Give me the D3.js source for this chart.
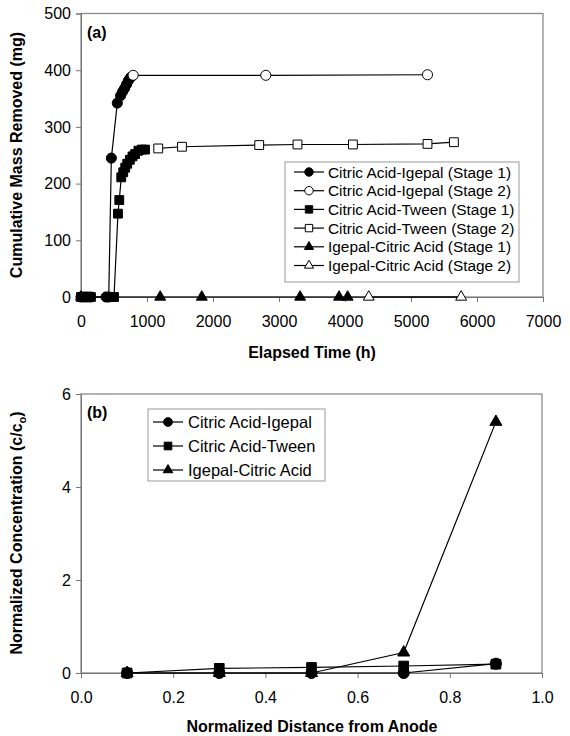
<!DOCTYPE html>
<html>
<head>
<meta charset="utf-8">
<script src="https://cdn.jsdelivr.net/npm/d3@7"></script>
<style>
body{margin:0;background:#fff}
svg{display:block;font-family:"Liberation Sans",Arial,sans-serif}
</style>
</head>
<body>
<script>
// panel (a) : [elapsed time h, cumulative mass removed mg]
var caIgepal1 = [[0,0],[48,0],[96,0],[144,0],[380,0],[420,0],[460,245],[550,342],[600,355],[630,362],[660,368],[690,375],[720,382],[750,387]];
var caIgepal2 = [[790,391],[2800,391],[5250,392]];
var caTween1 = [[0,0],[50,0],[100,0],[150,0],[420,0],[460,0],[500,0],[560,147],[580,171],[610,211],[640,220],[670,228],[700,235],[740,242],[780,248],[820,252],[870,258],[920,260],[970,260]];
var caTween2 = [[1170,262],[1530,265],[2700,268],[3280,269],[4120,269],[5250,270],[5650,273]];
var igCa1 = [[0,0],[1200,0],[1830,0],[3320,0],[3910,0],[4040,0]];
var igCa2 = [[4360,0],[5760,0]];
var namesA = ["Citric Acid-Igepal (Stage 1)","Citric Acid-Igepal (Stage 2)","Citric Acid-Tween (Stage 1)","Citric Acid-Tween (Stage 2)","Igepal-Citric Acid (Stage 1)","Igepal-Citric Acid (Stage 2)"];
var xTicksA = [0,1000,2000,3000,4000,5000,6000,7000];
var yTicksA = [0,100,200,300,400,500];

// panel (b) : normalized distance from anode vs c/co
var distB = [0.1,0.3,0.5,0.7,0.9];
var caIgepalB = [0,0,0,0,0.2];
var caTweenB = [0,0.1,0.12,0.15,0.19];
var igCaB = [0,0,0,0.44,5.4];
var namesB = ["Citric Acid-Igepal","Citric Acid-Tween","Igepal-Citric Acid"];
var xTicksB = [0,0.2,0.4,0.6,0.8,1.0];
var yTicksB = [0,2,4,6];

var svg = d3.select("body").append("svg")
  .attr("width",570).attr("height",736);

var symbols = {circle:d3.symbolCircle, square:d3.symbolSquare, triangle:d3.symbolTriangle};
var sizes = {circle:80, square:78, triangle:52};

function marker(g, sym, open, x, y, scale){
  g.append("path")
    .attr("d", d3.symbol().type(symbols[sym]).size(sizes[sym]*(scale||1))())
    .attr("transform","translate("+x+","+y+")")
    .attr("fill", open ? "#fff" : "#000")
    .attr("stroke","#000").attr("stroke-width",1);
}

function frame(x, y, left, right, top, bottom, xt, yt, fmt){
  svg.append("rect").attr("x",left).attr("y",top)
    .attr("width",right-left).attr("height",bottom-top)
    .attr("fill","none").attr("stroke","#8a8a8a").attr("stroke-width",1.3);

  var ax = svg.append("g").attr("transform","translate(0,"+bottom+")")
    .call(d3.axisBottom(x).tickValues(xt).tickSize(5).tickPadding(14).tickFormat(fmt));
  var ay = svg.append("g").attr("transform","translate("+left+",0)")
    .call(d3.axisLeft(y).tickValues(yt).tickSize(5).tickPadding(5).tickFormat(d3.format("d")));
  [ax,ay].forEach(function(a){
    a.selectAll("path,line").attr("stroke","#777");
    a.selectAll("text").attr("font-size",16).attr("fill","#000")
      .attr("font-family","'Liberation Sans',Arial,sans-serif");
  });
}

// ---------- panel (a)
var xA = d3.scaleLinear().domain([0,7000]).range([81,543]);
var yA = d3.scaleLinear().domain([0,500]).range([297,13.5]);
frame(xA, yA, 81, 543, 13.5, 297, xTicksA, yTicksA, d3.format("d"));

var seriesA = [
  {data:igCa1, sym:"triangle", open:false},
  {data:igCa2, sym:"triangle", open:true},
  {data:caIgepal1, sym:"circle", open:false},
  {data:caIgepal2, sym:"circle", open:true},
  {data:caTween1, sym:"square", open:false},
  {data:caTween2, sym:"square", open:true}
];
var lineA = d3.line().x(function(d){return xA(d[0]);}).y(function(d){return yA(d[1]);});
var gA = svg.append("g");
// stage 1 last point joins stage 2 for the Igepal-Citric Acid run
gA.append("path").attr("d",lineA([igCa1[igCa1.length-1]].concat(igCa2))).attr("fill","none")
  .attr("stroke","#000").attr("stroke-width",1.2);
seriesA.forEach(function(s){
  gA.append("path").attr("d",lineA(s.data)).attr("fill","none")
    .attr("stroke","#000").attr("stroke-width",1.2);
});
seriesA.forEach(function(s){
  s.data.forEach(function(d){ marker(gA, s.sym, s.open, xA(d[0]), yA(d[1])); });
});

svg.append("text").attr("x",87).attr("y",38).attr("font-size",16)
  .attr("font-weight","bold").text("(a)");
svg.append("text").attr("x",312).attr("y",358).attr("text-anchor","middle")
  .attr("font-size",16).attr("font-weight","bold").text("Elapsed Time (h)");
svg.append("text").attr("transform","translate(22,155) rotate(-90)")
  .attr("text-anchor","middle").attr("font-size",16).attr("font-weight","bold")
  .text("Cumulative Mass Removed (mg)");

// legend (a)
var legA = svg.append("g");
legA.append("rect").attr("x",285).attr("y",162).attr("width",234).attr("height",120)
  .attr("fill","#fff").attr("stroke","#9a9a9a").attr("stroke-width",1);
var legSymA = [["circle",false],["circle",true],["square",false],["square",true],["triangle",false],["triangle",true]];
namesA.forEach(function(n,i){
  var yy = 172 + i*18.7;
  legA.append("line").attr("x1",294).attr("x2",324).attr("y1",yy).attr("y2",yy)
    .attr("stroke","#000").attr("stroke-width",1.2);
  marker(legA, legSymA[i][0], legSymA[i][1], 309, yy, 0.7);
  legA.append("text").attr("x",328).attr("y",yy).attr("dy","0.36em")
    .attr("font-size",15.4).text(n);
});

// ---------- panel (b)
var xB = d3.scaleLinear().domain([0,1]).range([81,542]);
var yB = d3.scaleLinear().domain([0,6]).range([673,394]);
frame(xB, yB, 81, 542, 394, 673, xTicksB, yTicksB, d3.format(".1f"));

var seriesB = [
  {vals:igCaB, sym:"triangle"},
  {vals:caIgepalB, sym:"circle"},
  {vals:caTweenB, sym:"square"}
];
var lineB = d3.line().x(function(d,i){return xB(distB[i]);}).y(function(d){return yB(d);});
var gB = svg.append("g");
seriesB.forEach(function(s){
  gB.append("path").attr("d",lineB(s.vals)).attr("fill","none")
    .attr("stroke","#000").attr("stroke-width",1.2);
});
seriesB.forEach(function(s){
  s.vals.forEach(function(v,i){ marker(gB, s.sym, false, xB(distB[i]), yB(v), 1.2); });
});

svg.append("text").attr("x",87).attr("y",418).attr("font-size",16)
  .attr("font-weight","bold").text("(b)");
svg.append("text").attr("x",312).attr("y",732).attr("text-anchor","middle")
  .attr("font-size",16).attr("font-weight","bold").text("Normalized Distance from Anode");
var ytB = svg.append("text").attr("transform","translate(22,533) rotate(-90)")
  .attr("text-anchor","middle").attr("font-size",16).attr("font-weight","bold");
ytB.append("tspan").text("Normalized Concentration (c/c");
ytB.append("tspan").attr("font-size",11).attr("dy",4).text("o");
ytB.append("tspan").attr("dy",-4).text(")");

// legend (b)
var legB = svg.append("g");
legB.append("rect").attr("x",148).attr("y",409).attr("width",177).attr("height",72)
  .attr("fill","#fff").attr("stroke","#9a9a9a").attr("stroke-width",1);
var legSymB = ["circle","square","triangle"];
namesB.forEach(function(n,i){
  var yy = 422 + i*24;
  legB.append("line").attr("x1",153).attr("x2",183).attr("y1",yy).attr("y2",yy)
    .attr("stroke","#000").attr("stroke-width",1.2);
  marker(legB, legSymB[i], false, 168, yy, 0.75);
  legB.append("text").attr("x",188).attr("y",yy).attr("dy","0.36em")
    .attr("font-size",16.5).text(n);
});
</script>
</body>
</html>
